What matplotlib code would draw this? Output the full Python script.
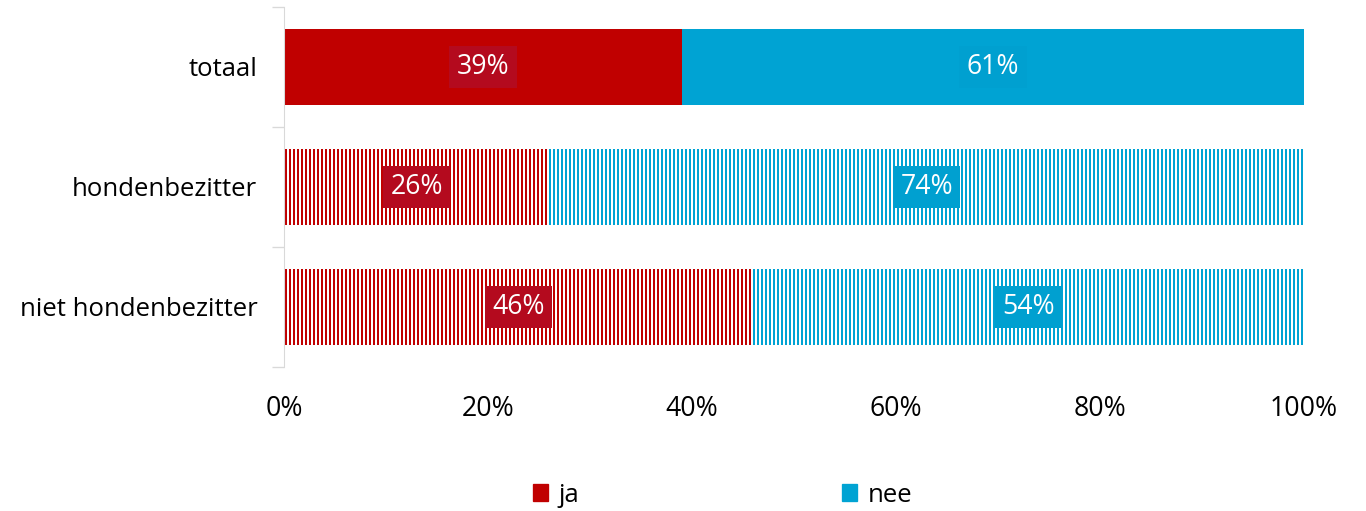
import matplotlib.pyplot as plt
from matplotlib.patches import Patch

plt.rcParams['font.family'] = ['Open Sans', 'DejaVu Sans']
plt.rcParams['hatch.linewidth'] = 1.5

categories = ['totaal', 'hondenbezitter', 'niet hondenbezitter']
ja = [39, 26, 46]
nee = [61, 74, 54]
hatched = [False, True, True]
ticks = [0, 20, 40, 60, 80, 100]

red = '#c00000'
blue = '#00a3d3'
red_box = '#b40a1e'
blue_box = '#00a0d0'

fig = plt.figure(figsize=(1366 / 96, 511 / 96), dpi=96)
ax = fig.add_axes([284 / 1366, 1 - 367 / 511, 1020 / 1366, 360 / 511])

ypos = list(range(len(categories)))
for i in ypos:
    for left, val, col, box in [(0, ja[i], red, red_box), (ja[i], nee[i], blue, blue_box)]:
        if hatched[i]:
            ax.barh(i, val, left=left, height=0.63, color='white', edgecolor=col,
                    hatch='||||', linewidth=0)
        else:
            ax.barh(i, val, left=left, height=0.63, color=col, linewidth=0)
        ax.text(left + val / 2, i, f'{val}%', ha='center', va='center', color='white',
                fontsize=20,
                bbox=dict(boxstyle='square,pad=0.28', facecolor=box, edgecolor='none'))

ax.set_xlim(0, 100)
ax.set_ylim(2.5, -0.5)
ax.set_yticks(ypos)
ax.set_yticklabels(categories, fontsize=19.3)
ax.set_yticks([-0.5, 0.5, 1.5, 2.5], minor=True)
ax.tick_params(axis='y', which='major', length=0, pad=20)
ax.tick_params(axis='y', which='minor', length=9, color='#d9d9d9', width=1)
ax.set_xticks(ticks)
ax.set_xticklabels([f'{t}%' for t in ticks], fontsize=20)
ax.tick_params(axis='x', length=0, pad=21)
for s in ['top', 'right', 'bottom']:
    ax.spines[s].set_visible(False)
ax.spines['left'].set_color('#d9d9d9')

handles = [Patch(color=red, label='ja'), Patch(color=blue, label='nee')]
fig.legend(handles=handles, loc='center', bbox_to_anchor=(0.529, 1 - 495 / 511), ncol=2,
           frameon=False, fontsize=19.3, columnspacing=10.2, handlelength=0.6,
           handleheight=0.6, handletextpad=0.4)

fig.savefig('out.png', dpi=96)
